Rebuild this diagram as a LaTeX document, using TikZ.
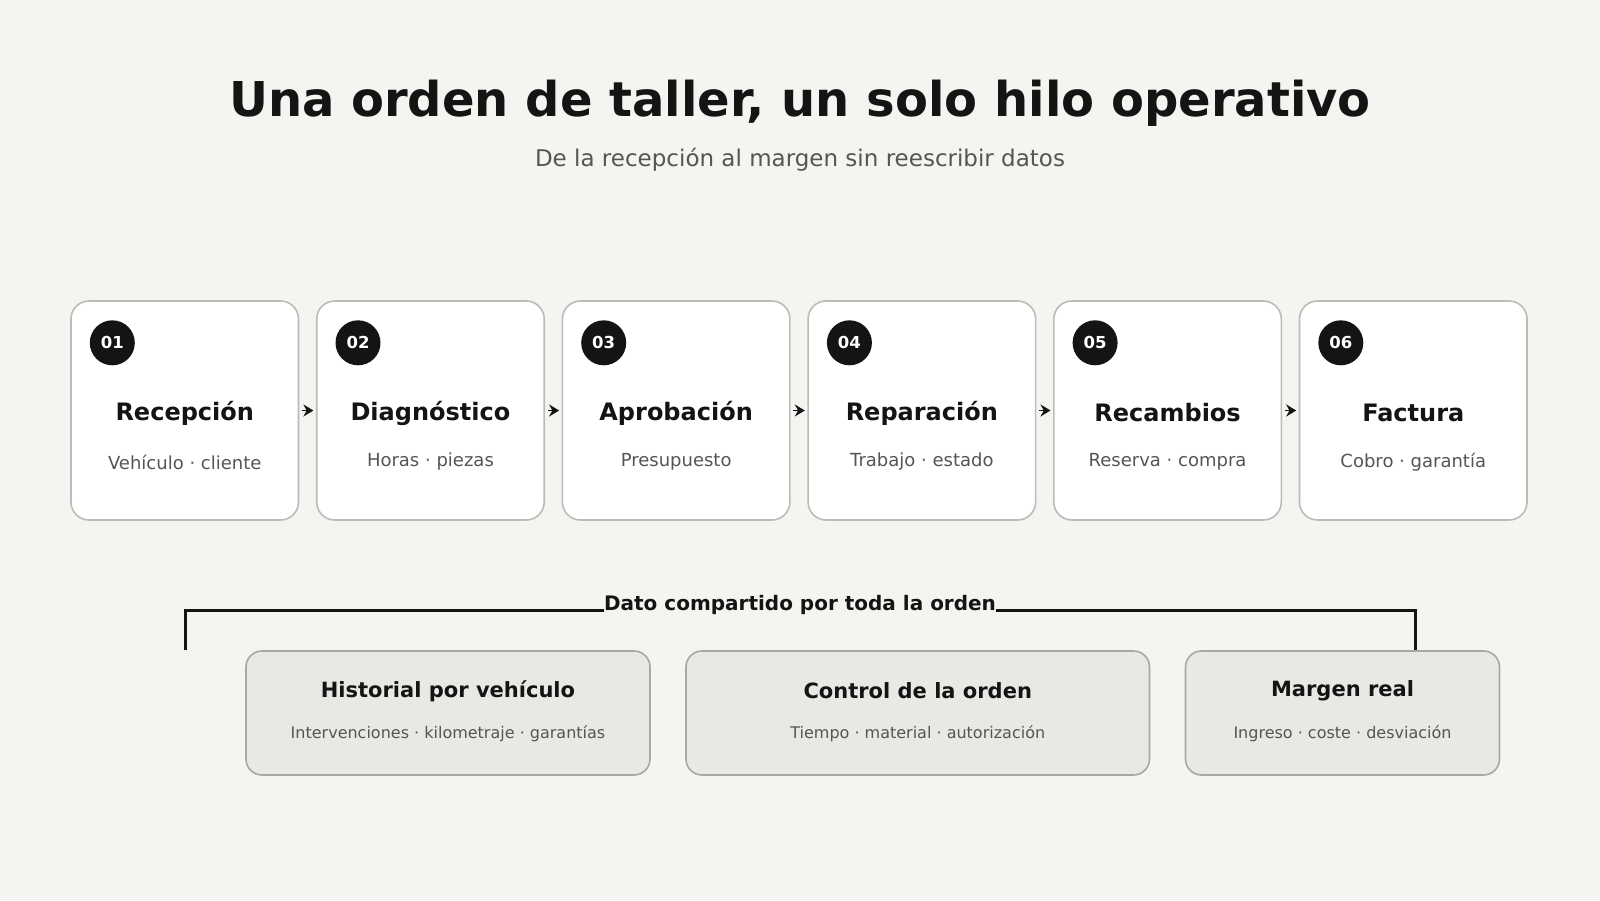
\documentclass[tikz,border=0pt]{standalone}
\usepackage{fontspec}
\setmainfont{DejaVu Sans}
\usetikzlibrary{arrows.meta}

\definecolor{canvas}{HTML}{F5F4F0}
\definecolor{cardline}{HTML}{BDBBB7}
\definecolor{panelfill}{HTML}{E9E8E4}
\definecolor{panelline}{HTML}{A9A7A3}
\definecolor{ink}{HTML}{141414}
\definecolor{subink}{HTML}{555555}

\tikzset{
  stepbox/.style={draw=cardline, line width=1.6pt, fill=white, rounded corners=18pt,
    minimum width=227.5pt, minimum height=219pt, inner sep=0pt},
  numdot/.style={circle, fill=ink, text=white, minimum size=45pt, inner sep=0pt,
    font=\fontsize{16.5}{20}\selectfont\bfseries},
  steptitle/.style={inner sep=0pt, text=ink, font=\fontsize{24}{29}\selectfont\bfseries},
  stepsub/.style={inner sep=0pt, text=subink, font=\fontsize{18}{22}\selectfont},
  flowarrow/.style={-{Stealth[length=10pt,width=12pt]}, line width=1.6pt, ink,
    shorten <=2.5pt, shorten >=2.5pt},
  panelbox/.style={draw=panelline, line width=1.6pt, fill=panelfill, rounded corners=16pt,
    minimum height=124pt, inner sep=0pt},
  paneltitle/.style={inner sep=0pt, text=ink, font=\fontsize{21}{25}\selectfont\bfseries},
  panelsub/.style={inner sep=0pt, text=subink, font=\fontsize{16}{19}\selectfont},
  bracketline/.style={line width=3pt, ink},
}

\begin{document}
\begin{tikzpicture}[x=1pt,y=1pt,yscale=-1,xscale=1]
    %set diagram to the full 1600 x 900 canvas
    \useasboundingbox (0,0) rectangle (1600,900);
    \fill [canvas] (0,0) rectangle (1600,900);

    % Title
    \node (title) [inner sep=0pt, text=ink, font=\fontsize{48}{58}\selectfont\bfseries] at (800,103) {Una orden de taller, un solo hilo operativo};
    \node (subtitle) [inner sep=0pt, text=subink, font=\fontsize{23}{28}\selectfont] at (800,160) {De la recepción al margen sin reescribir datos};

    %Shape: Step cards
    \node (b1) [stepbox] at (184.75,410.5) {};
    \node (b2) [stepbox] at (430.45,410.5) {};
    \node (b3) [stepbox] at (676.15,410.5) {};
    \node (b4) [stepbox] at (921.85,410.5) {};
    \node (b5) [stepbox] at (1167.55,410.5) {};
    \node (b6) [stepbox] at (1413.25,410.5) {};

    %Shape: Step numbers
    \node (n1) [numdot] at (112.3,342.8) {01};
    \node (n2) [numdot] at (358.0,342.8) {02};
    \node (n3) [numdot] at (603.7,342.8) {03};
    \node (n4) [numdot] at (849.4,342.8) {04};
    \node (n5) [numdot] at (1095.1,342.8) {05};
    \node (n6) [numdot] at (1340.8,342.8) {06};

    % Text Node
    \node (t1) [steptitle] at (184.75,413) {Recepción};
    \node (s1) [stepsub] at (184.75,462) {Vehículo · cliente};
    % Text Node
    \node (t2) [steptitle] at (430.45,413) {Diagnóstico};
    \node (s2) [stepsub] at (430.45,462) {Horas · piezas};
    % Text Node
    \node (t3) [steptitle] at (676.15,413) {Aprobación};
    \node (s3) [stepsub] at (676.15,462) {Presupuesto};
    % Text Node
    \node (t4) [steptitle] at (921.85,413) {Reparación};
    \node (s4) [stepsub] at (921.85,462) {Trabajo · estado};
    % Text Node
    \node (t5) [steptitle] at (1167.55,413) {Recambios};
    \node (s5) [stepsub] at (1167.55,462) {Reserva · compra};
    % Text Node
    \node (t6) [steptitle] at (1413.25,413) {Factura};
    \node (s6) [stepsub] at (1413.25,462) {Cobro · garantía};

    % Arrows between cards
    \draw [flowarrow] (b1.east) -- (b2.west);
    \draw [flowarrow] (b2.east) -- (b3.west);
    \draw [flowarrow] (b3.east) -- (b4.west);
    \draw [flowarrow] (b4.east) -- (b5.west);
    \draw [flowarrow] (b5.east) -- (b6.west);

    %Shape: Shared bracket
    \coordinate (bl) at (185,650);
    \coordinate (blt) at (185,610);
    \coordinate (brt) at (1415,610);
    \coordinate (br) at (1415,650);
    \draw [bracketline] (bl) -- (blt) -- (brt) -- (br);
    \node (shared) [anchor=base, fill=canvas, inner sep=0.5pt, text=ink, font=\fontsize{20}{24}\selectfont\bfseries] at (800,610) {Dato compartido por toda la orden};

    %Shape: Data panels
    \node (p1) [panelbox, minimum width=404pt] at (448,713) {};
    \node (p2) [panelbox, minimum width=463.5pt] at (917.75,713) {};
    \node (p3) [panelbox, minimum width=314pt] at (1342.5,713) {};

    % Text Node
    \node (q1) [paneltitle] at (448,691) {Historial por vehículo};
    \node (r1) [panelsub] at (448,734) {Intervenciones · kilometraje · garantías};
    % Text Node
    \node (q2) [paneltitle] at (917.75,691) {Control de la orden};
    \node (r2) [panelsub] at (917.75,734) {Tiempo · material · autorización};
    % Text Node
    \node (q3) [paneltitle] at (1342.5,691) {Margen real};
    \node (r3) [panelsub] at (1342.5,734) {Ingreso · coste · desviación};

\end{tikzpicture}
\end{document}
